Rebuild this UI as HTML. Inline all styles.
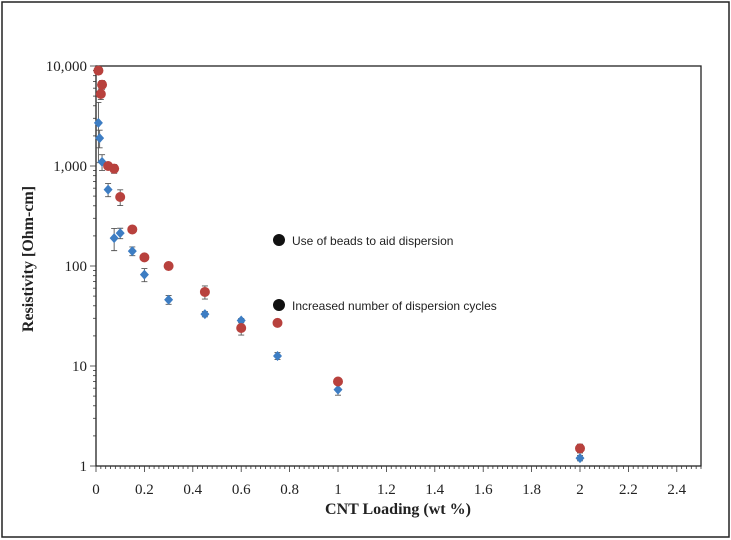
<!DOCTYPE html>
<html><head><meta charset="utf-8"><style>
body{margin:0;background:#fff;}
svg{display:block;}
</style></head><body>
<svg id="chart" width="731" height="540" viewBox="0 0 731 540" xmlns="http://www.w3.org/2000/svg">
<rect x="2" y="2" width="727" height="535" fill="#fff" stroke="#222" stroke-width="1.5"/>
<g id="axes"></g>
<g id="marks"></g>
<g>
<circle cx="279" cy="240" r="6" fill="#111"/>
<text x="292" y="245" font-family="Liberation Sans, sans-serif" font-size="12" fill="#222">Use of beads to aid dispersion</text>
<circle cx="279" cy="305" r="6" fill="#111"/>
<text x="292" y="310" font-family="Liberation Sans, sans-serif" font-size="12" fill="#222">Increased number of dispersion cycles</text>
</g>
<text x="398" y="514" text-anchor="middle" font-family="Liberation Serif, serif" font-weight="bold" font-size="16" fill="#222">CNT Loading (wt %)</text>
<text transform="translate(33,259) rotate(-90)" text-anchor="middle" font-family="Liberation Serif, serif" font-weight="bold" font-size="16" fill="#222">Resistivity [Ohm-cm]</text>
</svg>
<script>
const xTicks=[0,0.2,0.4,0.6,0.8,1,1.2,1.4,1.6,1.8,2,2.2,2.4];
const xTickLabels=["0","0.2","0.4","0.6","0.8","1","1.2","1.4","1.6","1.8","2","2.2","2.4"];
const yTicks=[1,10,100,1000,10000];
const yTickLabels=["1","10","100","1,000","10,000"];
const redX=[0.01,0.025,0.02,0.05,0.075,0.1,0.15,0.2,0.3,0.45,0.6,0.75,1.0,2.0];
const redY=[9000,6500,5250,1000,940,490,232,122,100,55,24,27,7.0,1.5];
const redErr=[0.05,0.1,0.12,0.05,0.1,0.18,0.04,0.06,0.08,0.15,0.15,0.08,0.08,0.1];
const blueX=[0.01,0.015,0.025,0.05,0.075,0.1,0.15,0.2,0.3,0.45,0.6,0.75,1.0,2.0];
const blueY=[2700,1900,1100,580,190,213,141,82,46,33,28.5,12.6,5.8,1.2];
const blueErr=[0.6,0.2,0.18,0.15,0.25,0.12,0.1,0.15,0.1,0.06,0.05,0.08,0.12,0.06];
const X0=96,X1=701,Y0=466,Y1=66,XMAX=2.5;
function sx(v){return X0+(X1-X0)*v/XMAX;}
function sy(v){return Y0-(Y0-Y1)*Math.log10(v)/4;}
const NS="http://www.w3.org/2000/svg";
function mk(tag,attrs,parent){const e=document.createElementNS(NS,tag);for(const k in attrs)e.setAttribute(k,attrs[k]);parent.appendChild(e);return e;}
const axes=document.getElementById('axes'),marks=document.getElementById('marks');
const frame=mk('rect',{x:X0,y:Y1,width:X1-X0,height:Y0-Y1,fill:'none',stroke:'#222','stroke-width':1.3},axes);


// x minor ticks
for(let i=0;i<=125;i++){const v=i*0.02;const x=sx(v);const t=mk('line',{x1:x,x2:x,y1:Y0,y2:Y0+(i%10==0?6:3),stroke:'#333','stroke-width':0.8},axes);

}
xTicks.forEach((v,i)=>{const t=mk('text',{x:sx(v),y:Y0+28,'text-anchor':'middle','font-family':'Liberation Serif, serif','font-size':15,fill:'#222'},axes);t.textContent=xTickLabels[i];

});
// y ticks
for(let d=0;d<4;d++){for(let m=1;m<=9;m++){const v=m*Math.pow(10,d);const y=sy(v);const t=mk('line',{x1:X0-(m==1?6:3),x2:X0,y1:y,y2:y,stroke:'#333','stroke-width':0.8},axes);

}}
mk('line',{x1:X0-6,x2:X0,y1:Y1,y2:Y1,stroke:'#333','stroke-width':0.8},axes);
yTicks.forEach((v,i)=>{const t=mk('text',{x:X0-9,y:sy(v)+5,'text-anchor':'end','font-family':'Liberation Serif, serif','font-size':15,fill:'#222'},axes);t.textContent=yTickLabels[i];

});
function errbar(x,y,e,name){const px=sx(x),top=sy(y*(1+e)),bot=sy(Math.max(y*(1-e),0.01));
const g=mk('path',{d:`M${px},${top}V${bot}M${px-3},${top}H${px+3}M${px-3},${bot}H${px+3}`,stroke:'#555','stroke-width':0.9,fill:'none'},marks);

}
blueX.forEach((x,i)=>{errbar(x,blueY[i],blueErr[i],'blue-error-bar');});
redX.forEach((x,i)=>{errbar(x,redY[i],redErr[i],'red-error-bar');});
blueX.forEach((x,i)=>{const px=sx(x),py=sy(blueY[i]);const p=mk('path',{d:`M${px},${py-5}L${px+4.5},${py}L${px},${py+5}L${px-4.5},${py}Z`,fill:'#3d7dc3'},marks);

});
redX.forEach((x,i)=>{const c=mk('circle',{cx:sx(x),cy:sy(redY[i]),r:5,fill:'#b8413d'},marks);

});
</script>
</body></html>
